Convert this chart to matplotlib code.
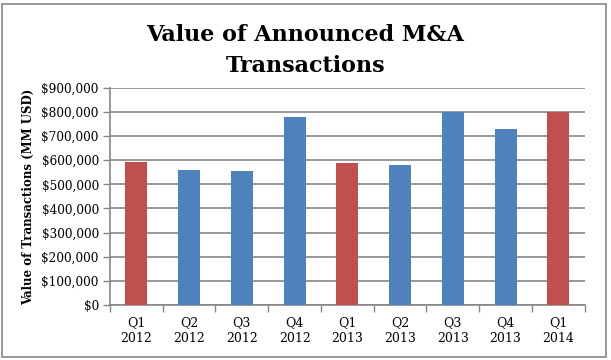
import matplotlib.pyplot as plt
from matplotlib.patches import Rectangle
from matplotlib.ticker import FuncFormatter, FixedLocator

# Data
quarters = ["Q1\n2012", "Q2\n2012", "Q3\n2012", "Q4\n2012", "Q1\n2013",
            "Q2\n2013", "Q3\n2013", "Q4\n2013", "Q1\n2014"]
values = [591000, 558000, 554000, 778000, 587000, 579000, 799000, 729000, 799000]
highlight = [True, False, False, False, True, False, False, False, True]

red = "#C0504D"
blue = "#4F81BD"
grid_c = "#868686"

plt.rcParams['font.family'] = ['DejaVu Serif']

fig = plt.figure(figsize=(6.11, 3.6), dpi=100)
ax = fig.add_axes([0.18, 0.153, 0.777, 0.603])

colors = [red if h else blue for h in highlight]
x = list(range(len(quarters)))
ax.bar(x, values, width=0.42, color=colors, zorder=3)

ax.set_xlim(-0.5, len(quarters) - 0.5)
ax.set_ylim(0, 900000)
ax.set_yticks(range(0, 900001, 100000))
ax.yaxis.set_major_formatter(FuncFormatter(lambda v, p: "${:,.0f}".format(v)))
ax.grid(axis='y', color=grid_c, linewidth=1.2, zorder=0)

# category labels, tick marks between categories
ax.set_xticks(x)
ax.set_xticklabels(quarters, fontsize=9, linespacing=1.3)
ax.tick_params(axis='x', length=0, pad=8)
ax.xaxis.set_minor_locator(FixedLocator([i - 0.5 for i in range(len(quarters) + 1)]))
ax.tick_params(axis='x', which='minor', length=5, color=grid_c, width=1)
ax.tick_params(axis='y', labelsize=8.7, length=5, color=grid_c, width=1, pad=3)

for s in ['top', 'right']:
    ax.spines[s].set_visible(False)
for s in ['left', 'bottom']:
    ax.spines[s].set_color(grid_c)
    ax.spines[s].set_linewidth(1.2)

ax.set_ylabel("Value of Transactions (MM USD)", fontsize=8.5, fontweight='bold', labelpad=5)

fig.text(0.5, 0.86, "Value of Announced M&A\nTransactions", ha='center', va='center',
         fontsize=16, fontweight='bold', linespacing=1.5)

# chart border
fig.patches.append(Rectangle((0.004, 0.008), 0.988, 0.98, transform=fig.transFigure,
                             fill=False, edgecolor="#888888", linewidth=1.2))

fig.savefig("out.png", dpi=100)
